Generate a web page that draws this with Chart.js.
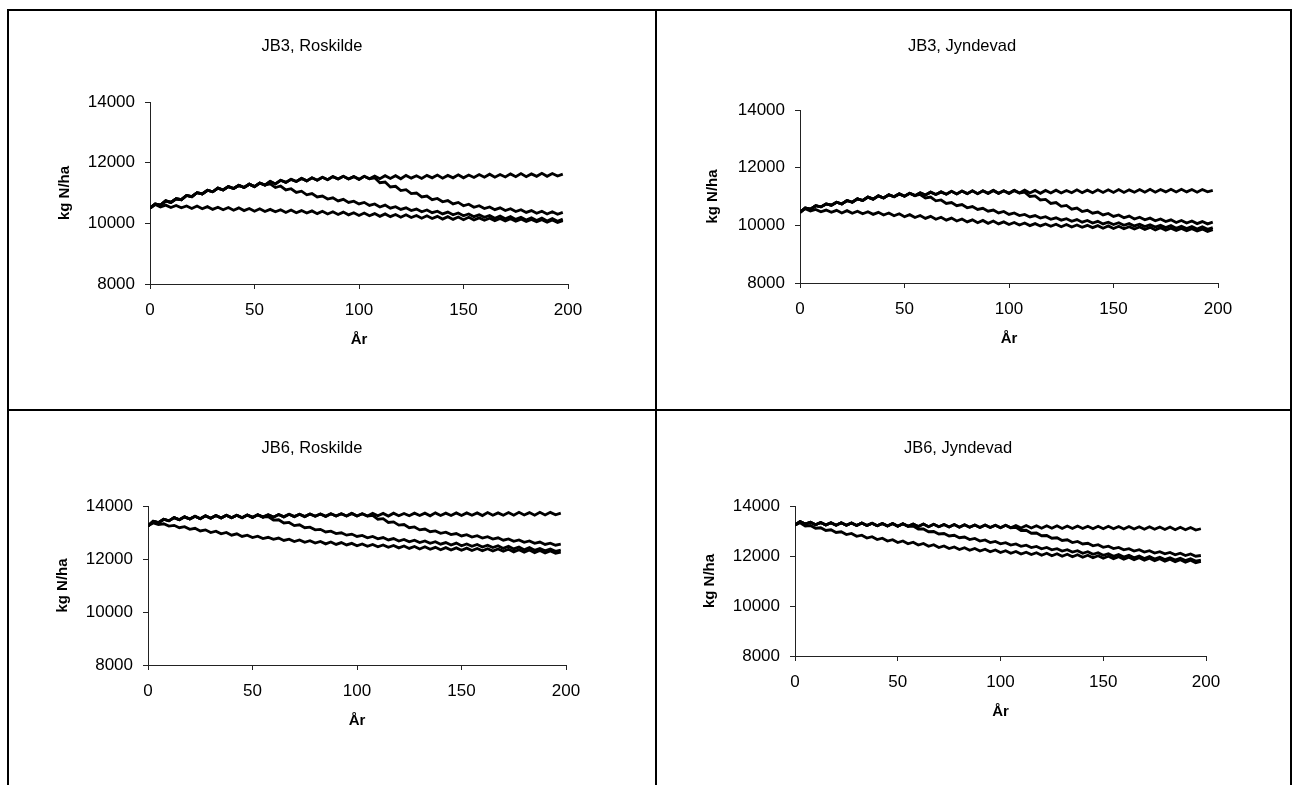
<!DOCTYPE html>
<html><head><meta charset="utf-8">
<script src="https://cdn.jsdelivr.net/npm/chart.js@4.4.0/dist/chart.umd.min.js"></script>
<style>
html,body{margin:0;padding:0;background:#fff}
body{width:1299px;height:785px;overflow:hidden;position:relative;font-family:"Liberation Sans",Arial,sans-serif;color:#000}
.ln{position:absolute;background:#000}
canvas{position:absolute}
.ttl{position:absolute;font-size:16.5px;line-height:16.5px;white-space:nowrap;transform:translate(-50%,-50%)}
</style></head><body>
<div class="ln" style="left:7px;top:9px;width:1285px;height:2px"></div>
<div class="ln" style="left:7px;top:9px;width:2px;height:790px"></div>
<div class="ln" style="left:1290px;top:9px;width:2px;height:790px"></div>
<div class="ln" style="left:655px;top:9px;width:2px;height:790px"></div>
<div class="ln" style="left:7px;top:409px;width:1285px;height:2px"></div>
<canvas id="c1"></canvas><canvas id="c2"></canvas><canvas id="c3"></canvas><canvas id="c4"></canvas>
<div class="ttl" id="t1"></div><div class="ttl" id="t2"></div><div class="ttl" id="t3"></div><div class="ttl" id="t4"></div>
<script>
// ---- data (years, kg N/ha) ----
const years = [0,2.5,5,7.5,10,12.5,15,17.5,20,22.5,25,27.5,30,32.5,35,37.5,40,42.5,45,47.5,50,52.5,55,57.5,60,62.5,65,67.5,70,72.5,75,77.5,80,82.5,85,87.5,90,92.5,95,97.5,100,102.5,105,107.5,110,112.5,115,117.5,120,122.5,125,127.5,130,132.5,135,137.5,140,142.5,145,147.5,150,152.5,155,157.5,160,162.5,165,167.5,170,172.5,175,177.5,180,182.5,185,187.5,190,192.5,195,197.5];
const panelTitles = ["JB3, Roskilde","JB3, Jyndevad","JB6, Roskilde","JB6, Jyndevad"];
const xTicks = [0,50,100,150,200];
const yTicks = [8000,10000,12000,14000];
const xTitle = "År";
const yTitle = "kg N/ha";

// JB3, Roskilde
const jb3RosA = [10500,10640,10600,10740,10690,10810,10780,10920,10880,11010,10970,11090,11040,11160,11100,11210,11150,11250,11180,11290,11210,11330,11260,11380,11300,11420,11350,11450,11380,11480,11400,11500,11420,11520,11440,11540,11460,11550,11460,11540,11450,11550,11470,11560,11470,11570,11480,11570,11470,11580,11490,11570,11480,11580,11500,11590,11490,11580,11500,11600,11500,11590,11510,11610,11520,11620,11520,11610,11530,11630,11540,11640,11540,11630,11550,11650,11550,11640,11560,11620];
const jb3RosB = [10500,10640,10600,10740,10690,10810,10780,10920,10880,11010,10970,11090,11040,11160,11100,11210,11150,11250,11180,11290,11210,11330,11260,11300,11180,11230,11100,11140,11020,11060,10940,10980,10870,10900,10800,10840,10740,10790,10690,10730,10640,10690,10590,10640,10540,10600,10500,10550,10460,10510,10420,10470,10380,10440,10350,10400,10310,10370,10280,10340,10250,10310,10220,10280,10200,10260,10170,10240,10150,10220,10130,10200,10110,10180,10090,10170,10080,10160,10070,10140];
const jb3RosC = [10500,10640,10600,10740,10690,10810,10780,10920,10880,11010,10970,11090,11040,11160,11100,11210,11150,11250,11180,11290,11210,11330,11260,11380,11300,11420,11350,11450,11380,11480,11400,11500,11420,11520,11440,11540,11460,11550,11460,11540,11450,11550,11470,11500,11340,11360,11200,11220,11080,11110,10980,11000,10870,10900,10780,10820,10710,10750,10640,10690,10580,10630,10530,10580,10490,10540,10450,10510,10420,10480,10390,10450,10360,10420,10330,10400,10310,10380,10300,10360];
const jb3RosD = [10500,10620,10540,10600,10520,10590,10510,10570,10490,10570,10480,10550,10460,10530,10450,10520,10430,10510,10420,10490,10400,10480,10390,10460,10380,10450,10360,10440,10350,10420,10340,10410,10320,10400,10310,10380,10290,10370,10280,10350,10260,10340,10250,10320,10230,10310,10220,10290,10200,10280,10190,10260,10170,10250,10160,10230,10140,10220,10130,10210,10120,10200,10110,10180,10100,10170,10090,10160,10080,10150,10070,10140,10060,10130,10050,10120,10040,10110,10030,10090];

// JB3, Jyndevad
const jb3JynA = [10450,10600,10560,10680,10640,10740,10700,10800,10740,10860,10800,10920,10860,10980,10910,11020,10950,11060,10990,11090,11010,11110,11030,11130,11050,11150,11070,11160,11080,11180,11090,11190,11100,11200,11100,11200,11110,11210,11110,11200,11110,11210,11120,11220,11120,11210,11110,11210,11120,11220,11120,11210,11130,11230,11130,11220,11130,11230,11140,11230,11140,11240,11140,11230,11150,11240,11150,11250,11150,11240,11160,11250,11160,11250,11160,11240,11150,11240,11160,11210];
const jb3JynB = [10450,10600,10560,10680,10640,10740,10700,10800,10740,10860,10800,10920,10860,10980,10910,11020,10950,11060,10990,11090,11010,11110,11030,11070,10950,10980,10850,10880,10760,10790,10680,10720,10610,10650,10550,10590,10490,10530,10430,10480,10380,10430,10340,10380,10290,10340,10250,10300,10210,10260,10180,10230,10140,10200,10110,10170,10080,10140,10050,10110,10030,10090,10000,10060,9980,10040,9960,10020,9940,10000,9920,9990,9900,9970,9890,9960,9870,9950,9860,9920];
const jb3JynC = [10450,10600,10560,10680,10640,10740,10700,10800,10740,10860,10800,10920,10860,10980,10910,11020,10950,11060,10990,11090,11010,11110,11030,11130,11050,11150,11070,11160,11080,11180,11090,11190,11100,11200,11100,11200,11110,11210,11110,11200,11110,11210,11120,11150,11000,11020,10880,10900,10760,10790,10660,10690,10560,10600,10480,10520,10420,10460,10360,10410,10310,10360,10260,10320,10220,10280,10190,10250,10160,10220,10130,10190,10100,10170,10080,10150,10060,10130,10050,10110];
const jb3JynD = [10450,10580,10500,10550,10470,10530,10450,10520,10430,10510,10420,10490,10400,10470,10380,10450,10360,10430,10330,10400,10300,10370,10270,10340,10240,10310,10210,10280,10180,10250,10150,10220,10120,10190,10090,10170,10070,10150,10050,10120,10030,10100,10010,10080,9990,10060,9980,10050,9970,10040,9950,10030,9940,10010,9930,10000,9920,9990,9900,9980,9890,9970,9880,9950,9870,9940,9860,9930,9840,9920,9830,9900,9820,9890,9810,9880,9800,9870,9790,9850];

// JB6, Roskilde
const jb6RosA = [13250,13420,13370,13500,13440,13560,13480,13590,13510,13610,13520,13630,13540,13640,13550,13650,13560,13650,13560,13660,13570,13670,13580,13670,13580,13680,13590,13690,13600,13690,13600,13700,13610,13700,13610,13710,13620,13710,13620,13720,13620,13710,13620,13720,13630,13720,13620,13730,13630,13720,13630,13730,13640,13730,13630,13740,13640,13730,13640,13740,13640,13740,13650,13740,13640,13750,13650,13740,13650,13750,13650,13760,13660,13750,13650,13760,13660,13760,13670,13730];
const jb6RosB = [13250,13420,13370,13500,13440,13560,13480,13590,13510,13610,13520,13630,13540,13640,13550,13650,13560,13650,13560,13660,13570,13670,13580,13600,13470,13480,13360,13380,13260,13290,13180,13200,13100,13120,13020,13050,12960,12990,12900,12940,12850,12890,12800,12850,12760,12810,12720,12770,12680,12740,12650,12710,12620,12680,12590,12650,12560,12620,12530,12600,12500,12570,12480,12550,12450,12520,12430,12500,12400,12480,12380,12450,12350,12430,12330,12400,12310,12380,12290,12340];
const jb6RosC = [13250,13420,13370,13500,13440,13560,13480,13590,13510,13610,13520,13630,13540,13640,13550,13650,13560,13650,13560,13660,13570,13670,13580,13670,13580,13680,13590,13690,13600,13690,13600,13700,13610,13700,13610,13710,13620,13710,13620,13720,13620,13710,13620,13650,13500,13520,13380,13400,13280,13300,13180,13210,13100,13130,13030,13060,12970,13010,12920,12960,12870,12920,12830,12880,12790,12840,12750,12800,12710,12760,12670,12720,12630,12680,12590,12640,12550,12600,12520,12560];
const jb6RosD = [13250,13360,13300,13330,13240,13270,13180,13220,13120,13160,13060,13100,13000,13050,12950,13000,12900,12950,12850,12900,12810,12860,12770,12820,12740,12790,12700,12750,12660,12720,12630,12690,12600,12660,12570,12640,12550,12620,12530,12590,12500,12570,12480,12550,12460,12530,12440,12510,12420,12490,12400,12470,12380,12460,12370,12440,12350,12430,12340,12420,12330,12410,12320,12400,12310,12390,12300,12380,12290,12370,12270,12350,12260,12340,12240,12320,12230,12300,12220,12260];

// JB6, Jyndevad
const jb6JynA = [13240,13380,13280,13350,13250,13340,13240,13330,13230,13330,13230,13320,13220,13320,13220,13310,13210,13300,13200,13300,13190,13290,13190,13280,13180,13280,13170,13270,13170,13260,13160,13260,13150,13250,13150,13240,13140,13240,13140,13230,13130,13230,13130,13220,13120,13220,13120,13210,13110,13210,13110,13210,13100,13200,13100,13200,13100,13190,13090,13190,13090,13190,13090,13180,13080,13180,13080,13170,13070,13170,13070,13160,13060,13160,13050,13150,13050,13140,13040,13090];
const jb6JynB = [13240,13380,13280,13350,13250,13340,13240,13330,13230,13330,13230,13320,13220,13320,13220,13310,13210,13300,13200,13300,13190,13290,13190,13200,13080,13080,12970,12980,12880,12900,12800,12830,12730,12760,12660,12700,12600,12640,12540,12580,12490,12530,12440,12480,12390,12430,12340,12380,12290,12340,12250,12290,12200,12250,12160,12210,12110,12170,12070,12130,12030,12090,11990,12060,11960,12030,11930,12000,11900,11980,11880,11950,11860,11930,11840,11910,11820,11890,11800,11840];
const jb6JynC = [13240,13380,13280,13350,13250,13340,13240,13330,13230,13330,13230,13320,13220,13320,13220,13310,13210,13300,13200,13300,13190,13290,13190,13280,13180,13280,13170,13270,13170,13260,13160,13260,13150,13250,13150,13240,13140,13240,13140,13230,13130,13230,13130,13150,13020,13030,12910,12920,12810,12820,12710,12730,12620,12650,12540,12580,12480,12510,12410,12450,12350,12390,12300,12340,12250,12290,12200,12250,12160,12210,12120,12170,12090,12140,12050,12110,12020,12080,11990,12020];
const jb6JynD = [13240,13330,13200,13220,13110,13130,13020,13050,12940,12970,12860,12900,12790,12830,12720,12770,12660,12710,12600,12650,12540,12600,12490,12550,12440,12500,12390,12450,12340,12400,12300,12360,12260,12330,12230,12300,12200,12270,12170,12240,12140,12210,12110,12180,12080,12150,12060,12130,12030,12110,12010,12090,11990,12070,11970,12050,11950,12030,11930,12010,11910,11990,11890,11970,11870,11950,11850,11930,11830,11910,11810,11890,11790,11870,11770,11850,11750,11830,11730,11780];

// ---- layout (page pixels) ----
const panels = [
 {id:'c1', t:'t1', box:[9,11,645,397], plot:[150,568,102,284], ytx:65, xly:310, xty:340, ttl:[312,45], series:[jb3RosA,jb3RosB,jb3RosC,jb3RosD]},
 {id:'c2', t:'t2', box:[657,11,632,397], plot:[800,1218,110,283], ytx:713, xly:309, xty:339, ttl:[962,45], series:[jb3JynA,jb3JynB,jb3JynC,jb3JynD]},
 {id:'c3', t:'t3', box:[9,411,645,374], plot:[148,566,506,665], ytx:63, xly:691, xty:721, ttl:[312,447], series:[jb6RosA,jb6RosB,jb6RosC,jb6RosD]},
 {id:'c4', t:'t4', box:[657,411,632,374], plot:[795,1206,506,656], ytx:710, xly:682, xty:712, ttl:[958,447], series:[jb6JynA,jb6JynB,jb6JynC,jb6JynD]}
];

Chart.defaults.font.family = '"Liberation Sans", Arial, sans-serif';
Chart.defaults.color = '#000';
const TICK_FS = 17, AX_FS = 15, TL = 5;
const axLH = AX_FS*1.2, tkLH = TICK_FS*1.2;

panels.forEach((p, k) => {
  const [bx,by,bw,bh] = p.box;
  const [l,r,t,b] = p.plot;
  const cv = document.getElementById(p.id);
  cv.width = bw; cv.height = bh;
  cv.style.left = bx+'px'; cv.style.top = by+'px';
  cv.style.width = bw+'px'; cv.style.height = bh+'px';
  const padLeft = p.ytx - axLH/2 - bx;
  const yW = l - bx - padLeft;
  const xBottom = p.xty + axLH/2;
  const xH = xBottom - b;
  const xTickPad = p.xly - tkLH/2 - b - TL;
  const tEl = document.getElementById(p.t);
  tEl.textContent = panelTitles[k];
  tEl.style.left = p.ttl[0]+'px'; tEl.style.top = p.ttl[1]+'px';
  const datasets = p.series.map(s => ({
    data: years.map((x,i)=>({x:x, y:s[i]})),
    borderColor:'#000', borderWidth:2.8, pointRadius:0, tension:0, fill:false
  }));
  new Chart(cv, {
    type:'line',
    data:{datasets},
    options:{
      responsive:false, animation:false, devicePixelRatio:1,
      layout:{padding:{left:padLeft, top:t-by, right:bx+bw-r, bottom:by+bh-xBottom}},
      plugins:{legend:{display:false}, tooltip:{enabled:false}, title:{display:false}},
      scales:{
        x:{type:'linear', min:0, max:200,
           afterBuildTicks:(s)=>{s.ticks = xTicks.map(v=>({value:v}));},
           afterFit:(s)=>{s.height = xH;},
           ticks:{font:{size:TICK_FS}, padding:xTickPad, maxRotation:0, autoSkip:false, callback:(v)=>String(v)},
           grid:{drawOnChartArea:false, drawTicks:true, tickLength:TL, color:'#222'},
           border:{display:true, color:'#222', width:1},
           title:{display:true, text:xTitle, font:{size:AX_FS, weight:'bold'}, padding:{top:0,bottom:0}}
        },
        y:{type:'linear', min:8000, max:14000,
           afterBuildTicks:(s)=>{s.ticks = yTicks.map(v=>({value:v}));},
           afterFit:(s)=>{s.width = yW;},
           ticks:{font:{size:TICK_FS}, padding:10, autoSkip:false, callback:(v)=>String(v)},
           grid:{drawOnChartArea:false, drawTicks:true, tickLength:TL, color:'#222'},
           border:{display:true, color:'#222', width:1},
           title:{display:true, text:yTitle, font:{size:AX_FS, weight:'bold'}, padding:{top:0,bottom:0}}
        }
      }
    }
  });
});
</script>
</body></html>
